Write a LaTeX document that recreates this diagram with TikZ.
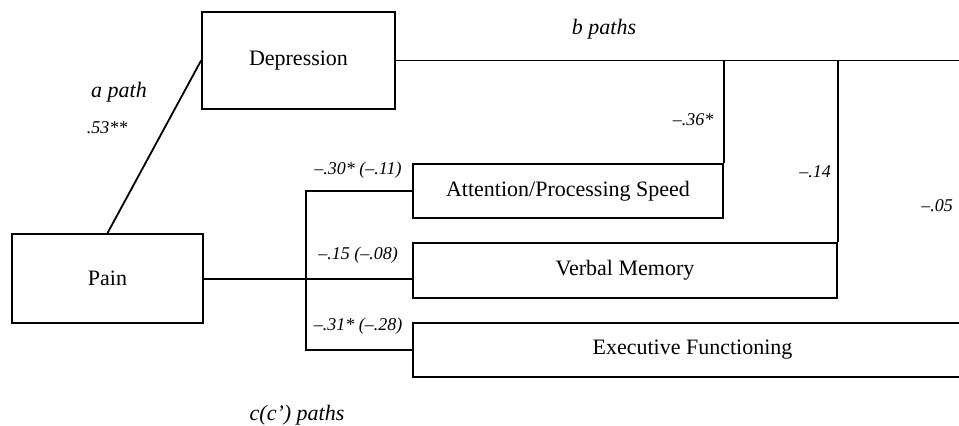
\documentclass[tikz,border=0pt]{standalone}
\usepackage{fontspec}
\setmainfont{Liberation Serif}
\begin{document}
\begin{tikzpicture}[x=0.5pt,y=-0.5pt,line width=0.9pt,
    box/.style={draw,inner sep=0pt,font=\fontsize{11}{13}\selectfont},
    coef/.style={inner sep=0pt,font=\fontsize{9}{11}\selectfont\itshape},
    pathlbl/.style={inner sep=0pt,font=\fontsize{11}{13}\selectfont\itshape}]
	\clip (0,0) rectangle (959,426);
	% variables
	\node[box,minimum width=96.5pt,minimum height=48.5pt] (dep) at (298.5,60.5) {Depression};
	\node[box,minimum width=95.5pt,minimum height=44.5pt] (pain) at (107.5,278.5) {Pain};
	\node[box,minimum width=155pt,minimum height=27pt] (attn) at (568,191) {Attention/Processing Speed};
	\node[box,minimum width=212pt,minimum height=27.5pt] (verbal) at (625,270.5) {Verbal Memory};
	\node[box,minimum width=279.5pt,minimum height=27pt] (exec) at (692.5,350) {Executive Functioning};
	\coordinate (split) at (306,279);
	% paths
	\draw (pain.north)--(dep.west);
	\draw (pain.east |- split)--(split)--(split -| verbal.west);
	\draw (attn.west)-|(split)|-(exec.west);
	\draw (dep.east)-|(exec.north east);
	\draw (attn.north east)--(attn.north east |- dep.east);
	\draw (verbal.north east)--(verbal.north east |- dep.east);
	% labels
	\node[pathlbl] (apath) at (119,92) {a path};
	\node[coef] (acoef) at (107,128) {.53**};
	\node[pathlbl] (bpath) at (604,29) {b paths};
	\node[pathlbl] (cpath) at (297,415) {c(c') paths};
	\node[coef] (battn) at (693,120) {--.36*};
	\node[coef] (bverbal) at (815,172) {--.14};
	\node[coef] (bexec) at (937,206) {--.05};
	\node[coef] (cattn) at (358,170) {--.30* (--.11)};
	\node[coef] (cverbal) at (358,255) {--.15 (--.08)};
	\node[coef] (cexec) at (358,326) {--.31* (--.28)};
\end{tikzpicture}
\end{document}
